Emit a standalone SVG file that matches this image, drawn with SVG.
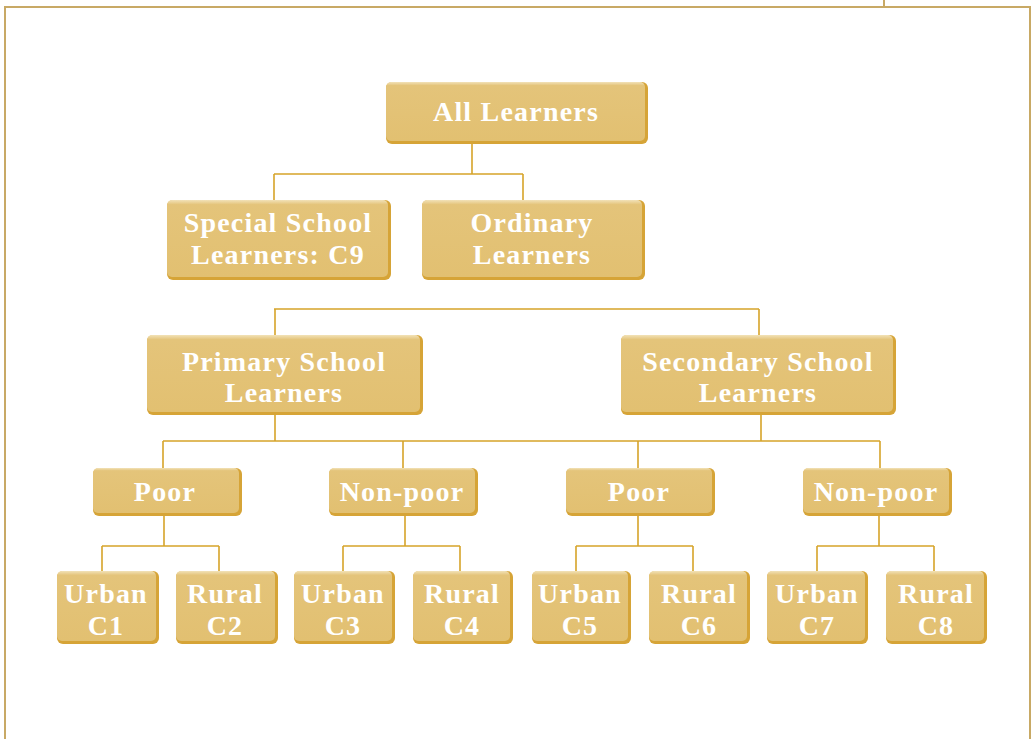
<svg xmlns="http://www.w3.org/2000/svg" width="1032" height="739" viewBox="0 0 1032 739">
<style>
.sh{fill:#D6A437}
.bx{fill:url(#g)}
.t{font-family:"Liberation Serif","Times New Roman",serif;font-weight:bold;font-size:28px;letter-spacing:1.2px;fill:#FFFFFF;text-anchor:middle}
.c{fill:none;stroke:#D6A42A;stroke-width:1.6}
.frame{fill:none;stroke:#C8A965;stroke-width:2}
</style>
<defs>
<linearGradient id="g" x1="0" y1="0" x2="0" y2="1">
<stop offset="0" stop-color="#F2E2B8"/>
<stop offset="0.06" stop-color="#E4C47A"/>
<stop offset="1" stop-color="#E2C071"/>
</linearGradient>
</defs>
<rect width="1032" height="739" fill="#FFFFFF"/>
<g id="frame">
<path class="frame" d="M5 739 V7 H1030 V739"/>
<path class="frame" d="M884 0 V7"/>
</g>
<g id="connectors">
<path class="c" d="M472 144 V174 M274 174 H523 M274 174 V200 M523 174 V200"/>
<path class="c" d="M274 309 H759 M275 309 V335 M759 309 V335"/>
<path class="c" d="M275 415 V441 M761 415 V441 M163 441 H880 M163 441 V468 M403 441 V468 M638 441 V468 M880 441 V468"/>
<path class="c" d="M164 516 V546 M102 546 H219 M102 546 V571 M219 546 V571"/>
<path class="c" d="M405 516 V546 M343 546 H460 M343 546 V571 M460 546 V571"/>
<path class="c" d="M638 516 V546 M576 546 H693 M576 546 V571 M693 546 V571"/>
<path class="c" d="M879 516 V546 M817 546 H934 M817 546 V571 M934 546 V571"/>
</g>
<g id="all"><rect class="sh" x="386" y="82" width="262" height="62" rx="6"/><rect class="bx" x="386" y="82" width="259" height="59" rx="5"/><text class="t" x="516" y="121">All Learners</text></g>
<g id="special"><rect class="sh" x="167" y="200" width="224" height="80" rx="6"/><rect class="bx" x="167" y="200" width="221" height="77" rx="5"/><text class="t" x="278" y="232">Special School</text><text class="t" x="278" y="264">Learners: C9</text></g>
<g id="ordinary"><rect class="sh" x="422" y="200" width="223" height="80" rx="6"/><rect class="bx" x="422" y="200" width="220" height="77" rx="5"/><text class="t" x="532" y="232">Ordinary</text><text class="t" x="532" y="264">Learners</text></g>
<g id="primary"><rect class="sh" x="147" y="335" width="276" height="80" rx="6"/><rect class="bx" x="147" y="335" width="273" height="77" rx="5"/><text class="t" x="284" y="371">Primary School</text><text class="t" x="284" y="402">Learners</text></g>
<g id="secondary"><rect class="sh" x="621" y="335" width="275" height="80" rx="6"/><rect class="bx" x="621" y="335" width="272" height="77" rx="5"/><text class="t" x="758" y="371">Secondary School</text><text class="t" x="758" y="402">Learners</text></g>
<g id="poor1"><rect class="sh" x="93" y="468" width="149" height="48" rx="6"/><rect class="bx" x="93" y="468" width="146" height="45" rx="5"/><text class="t" x="165" y="501">Poor</text></g>
<g id="nonpoor1"><rect class="sh" x="329" y="468" width="149" height="48" rx="6"/><rect class="bx" x="329" y="468" width="146" height="45" rx="5"/><text class="t" x="402" y="501">Non-poor</text></g>
<g id="poor2"><rect class="sh" x="566" y="468" width="149" height="48" rx="6"/><rect class="bx" x="566" y="468" width="146" height="45" rx="5"/><text class="t" x="639" y="501">Poor</text></g>
<g id="nonpoor2"><rect class="sh" x="803" y="468" width="149" height="48" rx="6"/><rect class="bx" x="803" y="468" width="146" height="45" rx="5"/><text class="t" x="876" y="501">Non-poor</text></g>
<g id="c1"><rect class="sh" x="57" y="571" width="102" height="73" rx="6"/><rect class="bx" x="57" y="571" width="99" height="70" rx="5"/><text class="t" x="106" y="603">Urban</text><text class="t" x="106" y="635">C1</text></g>
<g id="c2"><rect class="sh" x="176" y="571" width="102" height="73" rx="6"/><rect class="bx" x="176" y="571" width="99" height="70" rx="5"/><text class="t" x="225" y="603">Rural</text><text class="t" x="225" y="635">C2</text></g>
<g id="c3"><rect class="sh" x="294" y="571" width="101" height="73" rx="6"/><rect class="bx" x="294" y="571" width="98" height="70" rx="5"/><text class="t" x="343" y="603">Urban</text><text class="t" x="343" y="635">C3</text></g>
<g id="c4"><rect class="sh" x="413" y="571" width="100" height="73" rx="6"/><rect class="bx" x="413" y="571" width="97" height="70" rx="5"/><text class="t" x="462" y="603">Rural</text><text class="t" x="462" y="635">C4</text></g>
<g id="c5"><rect class="sh" x="532" y="571" width="99" height="73" rx="6"/><rect class="bx" x="532" y="571" width="96" height="70" rx="5"/><text class="t" x="580" y="603">Urban</text><text class="t" x="580" y="635">C5</text></g>
<g id="c6"><rect class="sh" x="649" y="571" width="101" height="73" rx="6"/><rect class="bx" x="649" y="571" width="98" height="70" rx="5"/><text class="t" x="699" y="603">Rural</text><text class="t" x="699" y="635">C6</text></g>
<g id="c7"><rect class="sh" x="767" y="571" width="101" height="73" rx="6"/><rect class="bx" x="767" y="571" width="98" height="70" rx="5"/><text class="t" x="817" y="603">Urban</text><text class="t" x="817" y="635">C7</text></g>
<g id="c8"><rect class="sh" x="886" y="571" width="101" height="73" rx="6"/><rect class="bx" x="886" y="571" width="98" height="70" rx="5"/><text class="t" x="936" y="603">Rural</text><text class="t" x="936" y="635">C8</text></g>
</svg>
